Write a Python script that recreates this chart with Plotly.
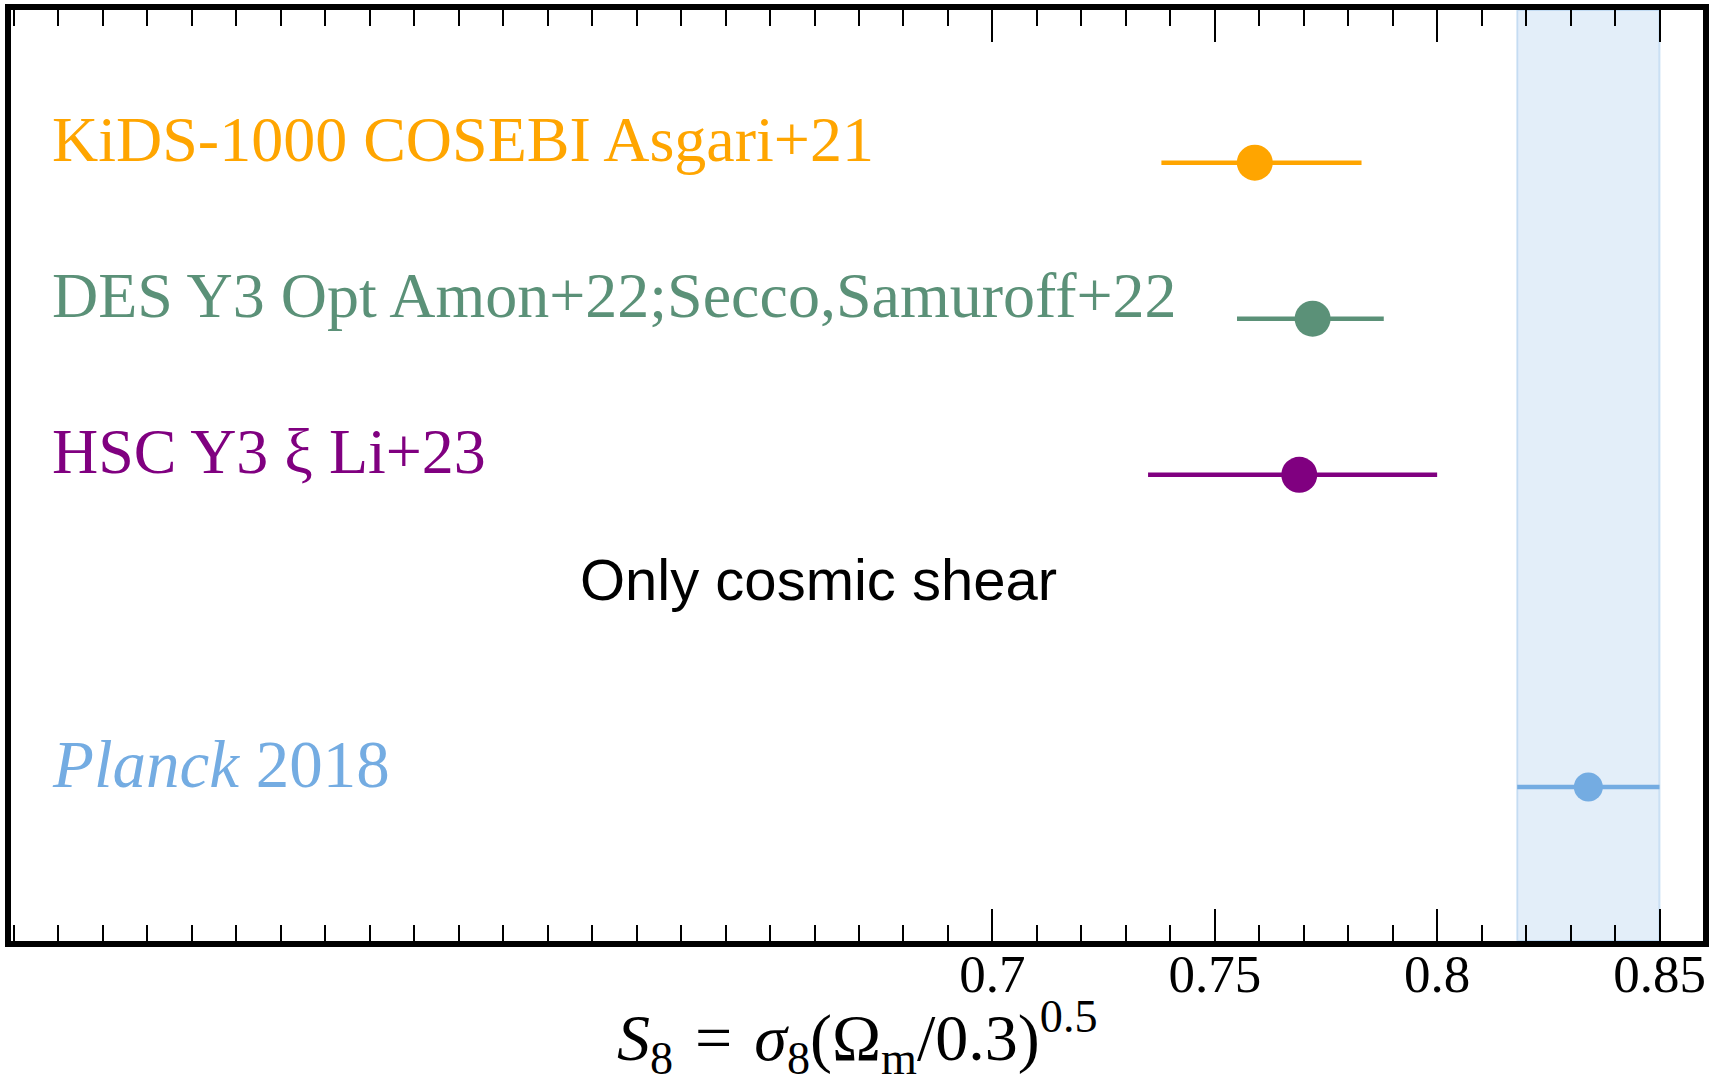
import plotly.graph_objects as go

# ---- data ----
surveys = ["KiDS-1000 COSEBI Asgari+21",
           "DES Y3 Opt Amon+22;Secco,Samuroff+22",
           "HSC Y3 ξ Li+23"]
row_y = [4, 3, 2]
s8 = [0.759, 0.772, 0.769]
err_up = [0.024, 0.016, 0.031]
err_down = [0.021, 0.017, 0.034]
colors = ["#FFA500", "#5B9178", "#800080"]

planck_label = "<i>Planck</i> 2018"
planck_y = 0
planck_s8 = 0.834
planck_err = 0.016
planck_color = "#74ACE2"

note_text = "Only cosmic shear"
note_x = 0.661
note_y = 1.33

x_range = [0.47933, 0.85978]
y_range = [-0.987, 4.978]
major_ticks = [0.7, 0.75, 0.8, 0.85]
tick_labels = ["0.7", "0.75", "0.8", "0.85"]
label_x = 0.4882
x_title = ("<i>S</i><sub>8</sub>\u2004=\u2004<i>σ</i><sub>8</sub>"
           "(Ω<sub>m</sub>/0.3)<sup>0.5</sup>")

SERIF = "Liberation Serif, Times New Roman, serif"
SANS = "Liberation Sans, Arial, sans-serif"

fig = go.Figure()

# Planck band
fig.add_shape(type="rect", xref="x", yref="paper",
              x0=planck_s8 - planck_err, x1=planck_s8 + planck_err, y0=0, y1=1,
              fillcolor="rgba(116,172,226,0.2)",
              line=dict(color="rgba(116,172,226,0.3)", width=2), layer="below")

for name, y, v, up, dn, c in zip(surveys, row_y, s8, err_up, err_down, colors):
    fig.add_trace(go.Scatter(
        x=[v], y=[y], mode="markers",
        marker=dict(size=36, color=c),
        error_x=dict(type="data", symmetric=False, array=[up], arrayminus=[dn],
                     color=c, thickness=4.5, width=0),
        showlegend=False, hoverinfo="skip"))
    fig.add_annotation(x=label_x, y=y, xref="x", yref="y", text=name,
                       showarrow=False, xanchor="left", yanchor="middle", yshift=23,
                       font=dict(family=SERIF, size=64, color=c))

fig.add_trace(go.Scatter(
    x=[planck_s8], y=[planck_y], mode="markers",
    marker=dict(size=29, color=planck_color),
    error_x=dict(type="data", symmetric=True, array=[planck_err],
                 color=planck_color, thickness=4.5, width=0),
    showlegend=False, hoverinfo="skip"))
fig.add_annotation(x=label_x, y=planck_y, xref="x", yref="y", text=planck_label,
                   showarrow=False, xanchor="left", yanchor="middle", yshift=23,
                   font=dict(family=SERIF, size=67, color=planck_color))

fig.add_annotation(x=note_x, y=note_y, xref="x", yref="y", text=note_text,
                   showarrow=False, xanchor="center", yanchor="middle",
                   font=dict(family=SANS, size=58, color="black"))

fig.add_annotation(x=0.5, y=-0.104, xref="paper", yref="paper", text=x_title,
                   showarrow=False, xanchor="center", yanchor="middle",
                   font=dict(family=SERIF, size=66, color="black"))

fig.update_xaxes(range=x_range, tickmode="array", tickvals=major_ticks, ticktext=tick_labels,
                 ticks="inside", ticklen=32, tickwidth=2, tickcolor="black",
                 minor=dict(tickmode="linear", tick0=0, dtick=0.01, ticks="inside",
                            ticklen=16, tickwidth=2, tickcolor="black"),
                 showline=True, linewidth=6, linecolor="black", mirror="allticks",
                 showgrid=False, zeroline=False, automargin=False,
                 ticklabelstandoff=-19,
                 tickfont=dict(family=SERIF, size=53, color="black"))
fig.update_yaxes(range=y_range, showticklabels=False, ticks="",
                 showline=True, linewidth=6, linecolor="black", mirror=True,
                 showgrid=False, zeroline=False, automargin=False)

fig.update_layout(width=1723, height=1083,
                  margin=dict(l=11, r=20, t=10, b=142),
                  paper_bgcolor="white", plot_bgcolor="white")

fig.write_html("out.html")
